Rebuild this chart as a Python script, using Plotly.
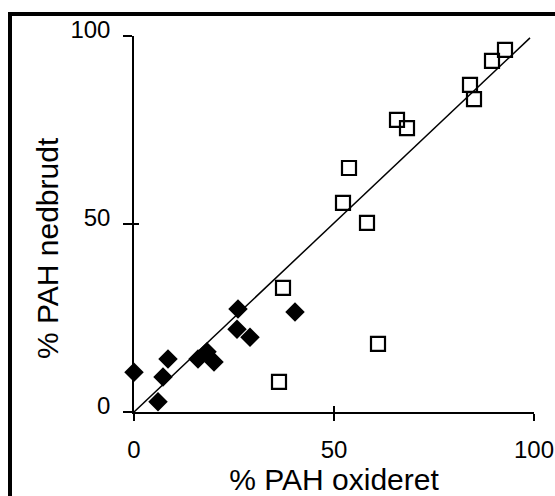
import plotly.graph_objects as go

# Open squares
sq_x = [92.75, 89.5, 84.0, 85.0, 65.75, 68.25, 53.75, 52.25, 58.25, 37.25, 61.0, 36.25]
sq_y = [96.3, 93.4, 87.0, 83.2, 77.7, 75.5, 64.9, 55.6, 50.3, 33.0, 18.1, 8.0]

# Filled diamonds
dm_x = [0.0, 6.0, 7.25, 8.5, 26.0, 25.75, 29.0, 16.0, 18.25, 20.0, 40.25]
dm_y = [10.6, 2.7, 9.3, 14.1, 27.4, 22.0, 19.9, 14.1, 16.0, 13.3, 26.6]

# Regression line
line_x = [0, 99]
line_y = [0, 99.5]

tick_vals = [0, 50, 100]
tick_text = ["0", "50", "100"]

FONT = "Liberation Sans, Arial, sans-serif"

fig = go.Figure()
fig.add_trace(go.Scatter(x=line_x, y=line_y, mode="lines",
                         line=dict(color="black", width=1.5),
                         showlegend=False, hoverinfo="skip"))
fig.add_trace(go.Scatter(x=sq_x, y=sq_y, mode="markers",
                         marker=dict(symbol="square-open", size=14, color="black",
                                     line=dict(width=2.2, color="black")),
                         showlegend=False, cliponaxis=False))
fig.add_trace(go.Scatter(x=dm_x, y=dm_y, mode="markers",
                         marker=dict(symbol="diamond", size=15, color="black"),
                         showlegend=False, cliponaxis=False))

axis_common = dict(range=[0, 100], tickvals=tick_vals, ticktext=tick_text,
                   showgrid=False, zeroline=False, showline=True, automargin=False,
                   linecolor="black", linewidth=1.5, tickcolor="black",
                   tickwidth=1.5, tickfont=dict(family=FONT, size=24, color="black"))

fig.update_layout(
    width=555, height=496,
    margin=dict(l=134, r=21, t=36, b=84),
    paper_bgcolor="white", plot_bgcolor="white",
    xaxis=dict(**axis_common, ticks="outside", ticklen=7, ticklabelstandoff=8,
               title=dict(text="% PAH oxideret", font=dict(family=FONT, size=30, color="black"),
                          standoff=10)),
    yaxis=dict(**axis_common, ticks="outside", ticklen=9, ticklabelstandoff=8,
               ticklabelshift=-6),
    xaxis2=dict(range=[0, 100], tickvals=tick_vals, overlaying="x", showticklabels=False,
                ticks="inside", ticklen=6, tickwidth=1.5, tickcolor="black",
                showgrid=False, zeroline=False, showline=False),
    yaxis2=dict(range=[0, 100], tickvals=tick_vals, overlaying="y", showticklabels=False,
                ticks="inside", ticklen=5, tickwidth=1.5, tickcolor="black",
                showgrid=False, zeroline=False, showline=False),
    annotations=[dict(text="% PAH nedbrudt", textangle=-90, showarrow=False,
                      xref="paper", yref="paper",
                      x=(47 - 134) / 400, y=(412 - 248) / 376,
                      xanchor="center", yanchor="middle",
                      font=dict(family=FONT, size=30, color="black"))],
    shapes=[dict(type="rect", xref="paper", yref="paper",
                 x0=(10 - 134) / 400, x1=(570 - 134) / 400,
                 y0=(412 - 510) / 376, y1=(412 - 14) / 376,
                 line=dict(color="black", width=4), fillcolor="rgba(0,0,0,0)")],
)
# dummy trace to activate overlay axes
fig.add_trace(go.Scatter(x=[None], y=[None], xaxis="x2", yaxis="y2",
                         showlegend=False, hoverinfo="skip"))

fig.write_html("out.html")
